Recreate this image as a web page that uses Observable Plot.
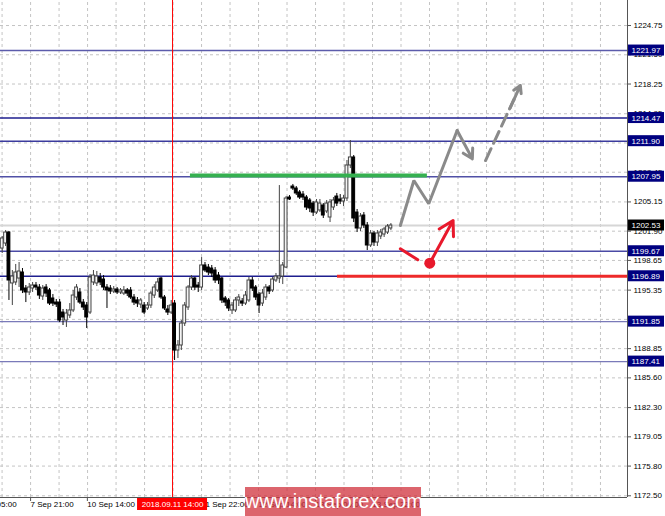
<!DOCTYPE html>
<html><head><meta charset="utf-8">
<script src="https://cdn.jsdelivr.net/npm/d3@7"></script>
<script src="https://cdn.jsdelivr.net/npm/@observablehq/plot@0.6"></script>
<style>
html,body{margin:0;padding:0;background:#fff;}
#wrap{position:relative;width:665px;height:516px;overflow:hidden;}
#wm{position:absolute;left:245px;top:487px;width:176px;height:29px;background:rgba(208,50,60,0.75);color:#fff;font:20px "Liberation Sans",Arial,sans-serif;text-align:center;line-height:29px;}
</style></head><body><div id="wrap"><div id="chart"></div><div id="wm">www.instaforex.com</div></div>
<script>
// ---- data (H1 candles) ----
const open = [
1199.97,1200.53,1201.75,1196.09,1196.20,1196.64,1197.31,1195.53,1195.09,1195.53,
1195.86,1195.64,1194.64,1195.64,1195.31,1194.42,1193.97,1193.97,1192.86,1191.97,
1192.53,1193.09,1194.53,1195.09,1193.97,1193.64,1192.86,1196.20,1196.09,1196.75,
1196.53,1195.64,1195.53,1195.20,1195.42,1195.09,1194.97,1195.31,1195.31,1194.53,
1194.20,1193.75,1193.64,1193.31,1193.64,1194.75,1195.31,1196.64,1194.53,1193.20,
1192.86,1193.86,1188.64,1189.20,1191.64,1193.42,1195.64,1196.64,1195.86,1195.64,
1198.09,1197.86,1197.75,1197.53,1196.97,1196.64,1194.42,1194.20,1193.09,1193.09,
1194.20,1194.09,1193.86,1194.20,1196.42,1195.64,1194.86,1193.86,1194.53,1195.64,
1195.31,1196.42,1196.64,1196.86,1197.86,1205.64,1206.86,1206.64,1206.20,1205.97,
1205.64,1205.31,1204.97,1203.97,1204.20,1204.75,1204.09,1203.42,1204.53,1205.75,
1205.42,1205.20,1205.53,1209.20,1210.09,1203.97,1202.20,1203.64,1202.53,1200.31,
1201.64,1200.64,1201.31,1201.53,1201.75,1202.20];
const close = [
1201.09,1201.75,1196.42,1196.86,1197.31,1197.42,1195.31,1195.09,1195.64,1195.86,
1195.64,1194.75,1195.53,1194.97,1193.86,1193.86,1193.75,1191.97,1192.31,1192.75,
1193.09,1194.75,1195.64,1193.97,1193.42,1192.31,1196.75,1196.97,1196.86,1196.20,
1195.64,1195.31,1195.20,1195.42,1195.09,1195.31,1195.31,1194.97,1194.53,1193.97,
1193.86,1194.20,1192.86,1193.64,1194.97,1195.64,1196.20,1194.53,1193.31,1192.86,
1193.64,1188.64,1189.20,1191.64,1193.64,1195.64,1196.64,1195.64,1195.64,1198.09,
1197.53,1197.31,1197.20,1196.42,1196.42,1194.20,1193.97,1193.31,1193.64,1194.20,
1194.53,1193.86,1194.75,1196.42,1195.53,1194.53,1193.64,1194.97,1195.64,1195.20,
1196.53,1196.86,1196.86,1198.09,1205.53,1205.42,1206.64,1206.09,1205.64,1205.64,
1204.53,1204.42,1203.97,1205.09,1204.97,1203.64,1204.97,1205.09,1205.31,1204.97,
1205.20,1205.53,1209.20,1210.09,1203.31,1202.20,1203.53,1202.53,1200.31,1201.64,
1200.64,1201.64,1201.75,1202.09,1202.42,1202.53];
const high = [
1201.31,1201.97,1201.86,1197.53,1198.20,1198.42,1197.75,1195.86,1196.09,1196.20,
1196.20,1195.97,1195.86,1195.97,1195.53,1194.86,1194.31,1194.31,1193.20,1193.20,
1193.86,1195.31,1195.97,1195.53,1194.31,1193.97,1197.09,1197.53,1197.42,1197.20,
1196.97,1195.97,1195.86,1195.75,1195.64,1195.53,1195.75,1195.53,1195.64,1194.86,
1194.53,1194.42,1193.97,1193.97,1195.20,1195.97,1196.64,1196.75,1194.75,1193.64,
1194.20,1194.20,1189.75,1191.97,1193.97,1195.86,1196.97,1196.75,1196.20,1198.97,
1198.42,1198.20,1198.09,1197.86,1197.31,1196.75,1194.64,1194.42,1193.97,1194.53,
1194.86,1194.42,1195.20,1196.75,1196.75,1195.86,1195.09,1195.42,1195.97,1195.86,
1196.75,1197.20,1206.97,1198.42,1205.75,1205.86,1207.09,1206.86,1206.42,1206.31,
1205.86,1205.53,1205.20,1205.42,1205.42,1204.97,1205.31,1205.42,1205.64,1206.09,
1205.97,1205.86,1209.75,1211.97,1210.31,1204.31,1203.86,1203.97,1202.86,1201.97,
1201.86,1201.97,1202.09,1202.31,1202.64,1202.75];
const low = [
1199.42,1200.20,1194.20,1193.64,1195.86,1195.64,1194.97,1193.97,1194.75,1195.09,
1195.31,1194.31,1194.20,1194.53,1193.64,1193.53,1193.42,1191.75,1191.42,1191.20,
1192.20,1192.86,1194.20,1193.75,1193.09,1191.09,1192.64,1195.86,1195.75,1195.86,
1195.31,1193.31,1194.86,1194.97,1194.86,1194.86,1194.75,1194.64,1194.31,1193.64,
1193.42,1193.31,1192.64,1193.09,1193.31,1194.42,1195.09,1194.31,1193.09,1192.53,
1192.64,1187.53,1187.75,1188.64,1191.31,1193.09,1195.31,1195.31,1195.09,1195.31,
1197.31,1196.97,1196.75,1196.09,1195.97,1193.86,1193.53,1192.97,1192.64,1192.86,
1193.53,1193.53,1193.64,1193.97,1195.20,1194.20,1192.75,1193.53,1194.20,1194.86,
1195.09,1196.20,1196.09,1195.97,1197.75,1205.31,1206.42,1205.86,1205.42,1205.31,
1204.20,1203.97,1203.53,1203.75,1203.97,1203.31,1203.86,1202.86,1204.20,1204.64,
1204.86,1204.64,1205.20,1208.86,1202.86,1201.75,1201.86,1202.20,1199.75,1200.09,
1200.20,1200.20,1200.97,1201.20,1201.53,1201.97];

// price axis ticks
const yTicks = [1224.75,1221.50,1218.25,1214.95,1211.70,1208.45,1205.15,1201.90,1198.65,1195.35,1192.10,1188.85,1185.60,1182.30,1179.05,1175.80,1172.50];
// horizontal levels
const levels = [1221.97,1214.47,1211.90,1207.95,1199.67,1196.89,1191.85,1187.41];
const currentPrice = 1202.53;
// time axis (bar index positions) and labels ("" = label hidden under the date marker)
const xTickIdx = [-8.5, 8.4, 25.2, 42.1, 59.0, 75.8, 92.7, 109.5];
const xTickLabels = ["7 Sep 05:00","7 Sep 21:00","10 Sep 14:00","","11 Sep 22:00","12 Sep 14:00","13 Sep 06:00","13 Sep 22:00"];
const markerIdx = 50.4;
const markerLabel = "2018.09.11 14:00";
// annotations
const greenLevel = 1208.09, greenFrom = 55.7, greenTo = 125.8;
const redLevel = 1196.89, redFrom = 99.2;
const grayPathX = [117.8, 121.8, 126.2, 134.6];
const grayPathY = [1202.53, 1207.53, 1204.94, 1213.09];
const grayArrowEnd = [139.1, 1209.94];
const dashX = [143.0, 151.4];
const dashY = [1209.75, 1216.55];
const dashArrowEnd = [153.3, 1218.09];
const redSegX = [117.8, 122.96], redSegY = [1199.94, 1198.72];
const redDot = [126.5, 1198.34];
const redArrowEnd = [133.4, 1203.09];

// ---- layout/styles ----
const xMin = -0.5, xMax = 185.0, yMin = 1172.31, yMax = 1227.53;
const pxX = 3.38, pxY = 9;
const levelStroke = ["#5c5cab","#1e1e8e","#3c3c9e","#5050a6","#4a4aa5","#1e1e8e","#7a7ab9","#7a7ab9"];
const gridX = d3.range(0, 22).map(k => xTickIdx[1] - 8.43 + k * 8.43).filter(v => v > xMin && v < xMax);

const candles = open.map((o, i) => ({i, o, h: high[i], l: low[i], c: close[i], up: close[i] >= o}));
const grayPath = grayPathX.map((x, k) => ({x, y: grayPathY[k]}));
const dashPath = dashX.map((x, k) => ({x, y: dashY[k]}));
const ticksX = xTickIdx.map((x, k) => ({x, label: xTickLabels[k]})).filter(d => d.label);
const lvl = levels.map((v, k) => ({v, k}));

const chart = Plot.plot({
  width: 665, height: 516,
  marginLeft: 0, marginRight: 38, marginTop: 0, marginBottom: 19,
  x: {type: "linear", domain: [xMin, xMax], axis: null},
  y: {type: "linear", domain: [yMin, yMax], axis: null},
  style: {fontFamily: "'Liberation Sans', Arial, sans-serif", fontSize: "8px", background: "#fff", overflow: "visible"},
  marks: [
    Plot.ruleY(yTicks, {x1: xMin, x2: xMax, stroke: "#c4c4c4", strokeDasharray: "3,3"}),
    Plot.ruleX(gridX, {y1: yMin, y2: yMax, stroke: "#c4c4c4", strokeDasharray: "3,3"}),
    Plot.ruleY([currentPrice], {x1: xMin, x2: xMax, stroke: "#d6d6d6", strokeWidth: 2}),
    Plot.ruleY(lvl, {y: "v", x1: xMin, x2: xMax, stroke: d => levelStroke[d.k], strokeWidth: 1.4}),
    Plot.ruleX([markerIdx], {y1: yMin, y2: yMax, stroke: "#ff0000", strokeWidth: 1}),
    // candles
    Plot.ruleX(candles, {x: "i", y1: "l", y2: "h", stroke: d => d.up ? "#444" : "#000", strokeWidth: 1}),
    Plot.rect(candles, {x1: d => d.i - 0.42, x2: d => d.i + 0.42, y1: "o", y2: "c",
      fill: d => d.up ? "#f4f4f4" : "#000", stroke: d => d.up ? "#444" : "#000", strokeWidth: 1}),
    // annotations
    Plot.ruleY([greenLevel], {x1: greenFrom, x2: greenTo, stroke: "#35b050", strokeWidth: 4}),
    Plot.ruleY([redLevel], {x1: redFrom, x2: xMax, stroke: "#ee2a2a", strokeWidth: 3}),
    Plot.line(grayPath, {x: "x", y: "y", stroke: "#8a8a8a", strokeWidth: 3, strokeLinejoin: "miter"}),
    Plot.arrow([0], {x1: grayPathX[3], y1: grayPathY[3], x2: grayArrowEnd[0], y2: grayArrowEnd[1], stroke: "#8a8a8a", strokeWidth: 3, headLength: 13}),
    Plot.line(dashPath, {x: "x", y: "y", stroke: "#8a8a8a", strokeWidth: 3, strokeDasharray: "13,6"}),
    Plot.arrow([0], {x1: 150.3, y1: 1215.6, x2: dashArrowEnd[0], y2: dashArrowEnd[1], stroke: "#8a8a8a", strokeWidth: 3, headLength: 13}),
    Plot.line(redSegX.map((x, k) => ({x, y: redSegY[k]})), {x: "x", y: "y", stroke: "#e8192c", strokeWidth: 3}),
    Plot.arrow([0], {x1: redDot[0], y1: redDot[1], x2: redArrowEnd[0], y2: redArrowEnd[1], stroke: "#e8192c", strokeWidth: 3, headLength: 13}),
    Plot.dot([0], {x: redDot[0], y: redDot[1], r: 5.5, fill: "#e8192c"}),
    // frame
    Plot.ruleX([xMax], {y1: yMin, y2: yMax, stroke: "#555"}),
    Plot.ruleY([yMin], {x1: xMin, x2: xMax, stroke: "#555"}),
    // right axis
    Plot.ruleY(yTicks, {x1: xMax, x2: xMax + 4 / pxX, stroke: "#555"}),
    Plot.text(yTicks, {x: xMax, y: d => d, text: d => d.toFixed(2), textAnchor: "start", dx: 6, fill: "#000"}),
    Plot.rect(lvl, {x1: xMax + 0.3, x2: xMax + 37 / pxX, y1: d => d.v - 5.5 / pxY, y2: d => d.v + 5.5 / pxY, fill: "#000080"}),
    Plot.text(lvl, {x: xMax, y: "v", text: d => d.v.toFixed(2), textAnchor: "start", dx: 4, fill: "#fff"}),
    Plot.rect([currentPrice], {x1: xMax + 0.3, x2: xMax + 37 / pxX, y1: d => d - 5.5 / pxY, y2: d => d + 5.5 / pxY, fill: "#000"}),
    Plot.text([currentPrice], {x: xMax, y: d => d, text: d => d.toFixed(2), textAnchor: "start", dx: 4, fill: "#fff"}),
    // time axis
    Plot.ruleX(xTickIdx, {y1: yMin, y2: yMin - 4 / pxY, stroke: "#555"}),
    Plot.text(ticksX, {x: "x", y: yMin, text: "label", textAnchor: "start", dy: 7, fill: "#000"}),
    Plot.rect([markerIdx], {x1: d => d - 35 / pxX, x2: d => d + 35 / pxX, y1: yMin - 1 / pxY, y2: yMin - 13 / pxY, fill: "#ff0000"}),
    Plot.text([markerIdx], {x: d => d, y: yMin, text: () => markerLabel, dy: 7, fill: "#fff"})
  ]
});
document.getElementById("chart").appendChild(chart);
</script></body></html>
